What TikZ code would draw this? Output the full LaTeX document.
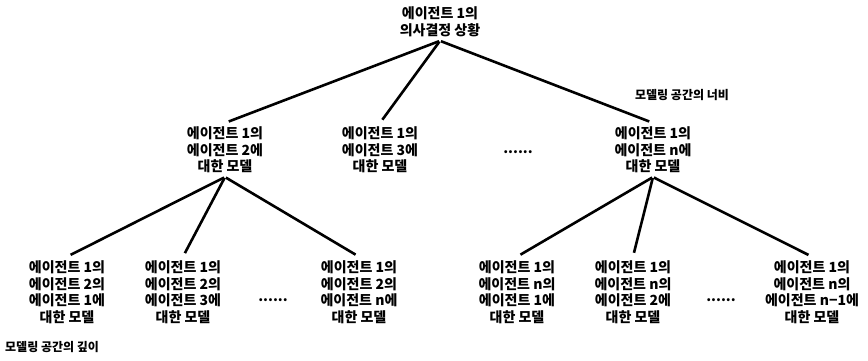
\documentclass[tikz,border=0pt]{standalone}
\usepackage{fontspec}
\setmainfont{Noto Sans CJK KR}[BoldFont={* Black}]
\begin{document}
\begin{tikzpicture}[x=1pt,y=-1pt,
  txt/.style={align=center,inner sep=4pt,outer sep=0pt,font=\bfseries\fontsize{14}{16.5}\selectfont},
  lbl/.style={inner sep=0pt,font=\bfseries\fontsize{12}{14}\selectfont},
  dotsn/.style={inner sep=0pt,font=\bfseries\fontsize{14}{16}\selectfont},
  conn/.style={line width=2.6pt,shorten <=1pt,shorten >=4pt}]
\useasboundingbox (0,0) rectangle (868,360);
\node[txt] (top) at (440,22) {에이전트 1의\\의사결정 상황};
\node[txt] (m1) at (225,150) {에이전트 1의\\에이전트 2에\\대한 모델};
\node[txt] (m2) at (380,150) {에이전트 1의\\에이전트 3에\\대한 모델};
\node[dotsn] (md) at (518,152) {......};
\node[txt] (mn) at (653,150) {에이전트 1의\\에이전트 n에\\대한 모델};
\node[txt] (b1) at (67,292) {에이전트 1의\\에이전트 2의\\에이전트 1에\\대한 모델};
\node[txt] (b2) at (183,292) {에이전트 1의\\에이전트 2의\\에이전트 3에\\대한 모델};
\node[dotsn] (bd1) at (273,300) {......};
\node[txt] (b3) at (359,292) {에이전트 1의\\에이전트 2의\\에이전트 n에\\대한 모델};
\node[txt] (b4) at (517,292) {에이전트 1의\\에이전트 n의\\에이전트 1에\\대한 모델};
\node[txt] (b5) at (633,292) {에이전트 1의\\에이전트 n의\\에이전트 2에\\대한 모델};
\node[dotsn] (bd2) at (721,300) {......};
\node[txt] (b6) at (812,292) {에이전트 1의\\에이전트 n의\\에이전트 n−1에\\대한 모델};
\node[lbl] (width) at (682,95) {모델링 공간의 너비};
\node[lbl,anchor=west] (depth) at (5,347) {모델링 공간의 깊이};
\draw[conn] (top.south) -- (m1.north);
\draw[conn] (top.south) -- (m2.north);
\draw[conn] (top.south) -- (mn.north);
\draw[conn] (m1.south) -- (b1.north);
\draw[conn] (m1.south) -- (b2.north);
\draw[conn] (m1.south) -- (b3.north);
\draw[conn] (mn.south) -- (b4.north);
\draw[conn] (mn.south) -- (b5.north);
\draw[conn] (mn.south) -- (b6.north);
\end{tikzpicture}
\end{document}
